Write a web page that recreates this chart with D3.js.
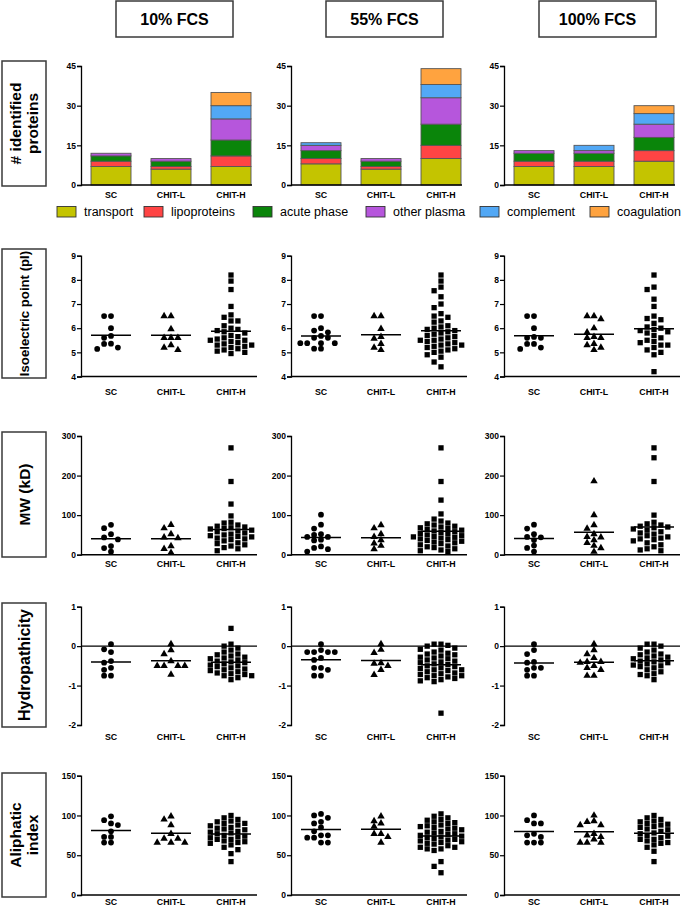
<!DOCTYPE html>
<html><head><meta charset="utf-8">
<script src="https://cdn.jsdelivr.net/npm/d3@7"></script>
<style>
body{margin:0;background:#fff}
svg{display:block}
text{font-family:'Liberation Sans',Arial,Helvetica,sans-serif}
</style>
</head><body>
<svg id="chart" width="685" height="911"></svg>
<script>
// ---------------- DATA ----------------
const conditions = ["10% FCS", "55% FCS", "100% FCS"];
const groups = ["SC", "CHIT-L", "CHIT-H"];
const proteinClasses = ["transport", "lipoproteins", "acute phase", "other plasma", "complement", "coagulation"];
const classColors = ["#c4c400", "#ff4444", "#0a850a", "#b656dc", "#52a8f5", "#ffa33f"];

// number of identified proteins per class: [group][class]
const counts10 = [[7, 2, 2, 1, 0, 0], [6, 1, 2, 1, 0, 0], [7, 4, 6, 8, 5, 5]];
const counts55 = [[8, 2, 3, 2, 1, 0], [6, 1, 2, 1, 0, 0], [10, 5, 8, 10, 5, 6]];
const counts100 = [[7, 2, 3, 1, 0, 0], [7, 2, 3, 1, 2, 0], [9, 4, 5, 5, 4, 3]];
const countTicks = [0, 15, 30, 45];

// isoelectric point: [SC, CHIT-L, CHIT-H]
const pI10 = [
  [6.5, 6.5, 6.0, 5.68, 5.6, 5.35, 5.14, 5.2, 5.36],
  [6.5, 6.5, 5.96, 5.6, 5.6, 5.6, 5.3, 5.1, 5.2],
  [8.2, 7.95, 7.6, 6.9, 6.55, 6.45, 6.3, 6.3, 6.1, 6.0, 5.95, 5.9, 5.85, 5.8, 5.7, 5.65, 5.6, 5.55, 5.5, 5.5, 5.45, 5.4, 5.35, 5.3, 5.3, 5.25, 5.2, 5.15, 5.1, 5.05, 5.0, 4.95]
];
const pI55 = [
  [6.5, 6.5, 6.0, 5.9, 5.83, 5.68, 5.6, 5.6, 5.38, 5.38, 5.38, 5.38, 5.15, 5.15],
  [6.5, 6.5, 5.97, 5.64, 5.57, 5.35, 5.1, 5.2],
  [8.2, 7.95, 7.7, 7.55, 7.3, 7.0, 6.85, 6.6, 6.5, 6.45, 6.3, 6.25, 6.1, 6.05, 6.0, 5.95, 5.9, 5.85, 5.8, 5.75, 5.7, 5.65, 5.6, 5.55, 5.5, 5.5, 5.45, 5.4, 5.35, 5.3, 5.3, 5.25, 5.2, 5.15, 5.1, 5.05, 5.0, 4.9, 4.8, 4.6, 4.4]
];
const pI100 = [
  [6.5, 6.5, 6.0, 5.6, 5.6, 5.64, 5.35, 5.14, 5.2, 5.35],
  [5.83, 6.5, 6.38, 6.5, 6.0, 5.6, 5.6, 5.64, 5.3, 5.35, 5.1, 5.2],
  [8.2, 7.7, 7.6, 7.2, 6.9, 6.5, 6.4, 6.35, 6.2, 6.05, 6.0, 5.95, 5.9, 5.85, 5.8, 5.7, 5.6, 5.5, 5.45, 5.4, 5.3, 5.3, 5.2, 5.1, 5.0, 4.9, 4.2]
];
const pITicks = [4, 5, 6, 7, 8, 9];

// molecular weight (kD)
const mw10 = [
  [75.6, 67, 52, 38.7, 43.7, 21.8, 16.8, 7.6],
  [52, 67, 75.6, 42, 43.7, 21.8, 15, 5],
  [270, 185, 128, 98, 82, 80, 75, 72, 70, 68, 66, 65, 62, 60, 58, 55, 52, 50, 48, 46, 45, 42, 40, 38, 35, 30, 28, 25, 22, 18, 15, 10]
];
const mw55 = [
  [101, 76, 66, 52, 50, 45, 45, 38, 36, 17, 14, 21, 8],
  [75, 67, 45, 52, 37, 28.6, 14.3, 22.7],
  [270, 185, 138, 103, 90, 85, 80, 78, 75, 72, 70, 68, 66, 64, 62, 60, 58, 56, 54, 52, 50, 48, 46, 45, 44, 42, 40, 38, 36, 34, 32, 30, 28, 25, 22, 20, 18, 15, 12, 10, 8]
];
const mw100 = [
  [45, 76, 66, 52, 37, 44, 23, 17, 8],
  [185.7, 100, 75, 66, 45, 37, 43.7, 22.7, 52, 7.6, 16.8, 30],
  [270, 245, 185, 100, 82, 78, 75, 72, 70, 68, 65, 62, 58, 55, 52, 48, 45, 42, 40, 38, 35, 30, 25, 20, 15, 12, 10]
];
const mwTicks = [0, 100, 200, 300];

// hydropathicity (GRAVY)
const hyd10 = [
  [0.05, -0.08, -0.15, -0.38, -0.42, -0.55, -0.6, -0.75, -0.75],
  [0.05, -0.1, -0.2, -0.38, -0.5, -0.5, -0.5, -0.5, -0.72],
  [0.45, 0.05, 0.0, -0.05, -0.1, -0.15, -0.2, -0.22, -0.25, -0.28, -0.3, -0.32, -0.35, -0.38, -0.4, -0.42, -0.45, -0.48, -0.5, -0.52, -0.55, -0.58, -0.6, -0.62, -0.65, -0.68, -0.7, -0.72, -0.75, -0.75, -0.8, -0.85]
];
const hyd55 = [
  [0.05, -0.15, -0.15, -0.15, -0.15, -0.1, -0.3, -0.35, -0.55, -0.55, -0.6, -0.75, -0.75],
  [0.05, -0.09, -0.17, -0.44, -0.5, -0.43, -0.6, -0.73],
  [0.05, 0.05, 0.02, 0.0, -0.05, -0.08, -0.1, -0.15, -0.18, -0.2, -0.22, -0.25, -0.28, -0.3, -0.32, -0.35, -0.38, -0.4, -0.42, -0.45, -0.47, -0.5, -0.52, -0.55, -0.57, -0.6, -0.62, -0.65, -0.68, -0.7, -0.72, -0.75, -0.78, -0.8, -0.82, -0.85, -0.88, -0.9, -0.75, -0.6, -1.7]
];
const hyd100 = [
  [0.05, -0.1, -0.2, -0.4, -0.42, -0.55, -0.55, -0.6, -0.75, -0.75],
  [0.05, -0.1, -0.2, -0.3, -0.4, -0.4, -0.42, -0.5, -0.55, -0.6, -0.75, -0.75],
  [0.05, 0.05, 0.0, -0.05, -0.1, -0.15, -0.2, -0.22, -0.25, -0.28, -0.3, -0.32, -0.35, -0.38, -0.4, -0.42, -0.45, -0.48, -0.5, -0.52, -0.55, -0.6, -0.65, -0.7, -0.72, -0.75, -0.85]
];
const hydTicks = [-2, -1, 0, 1];

// aliphatic index
const ali10 = [
  [99, 94, 90, 88, 80, 73, 73, 66, 66],
  [99, 95, 88, 77, 71, 71, 66, 66, 66],
  [100, 97, 95, 93, 92, 90, 90, 88, 87, 85, 84, 83, 82, 80, 79, 78, 77, 75, 74, 73, 72, 70, 70, 68, 67, 66, 65, 63, 60, 57, 52, 42]
];
const ali55 = [
  [102, 100, 97, 92, 90, 85, 80, 75, 75, 72, 66, 66, 72],
  [99, 93, 90, 86, 77, 73, 66, 77],
  [102, 99, 97, 95, 94, 92, 91, 90, 88, 87, 86, 85, 84, 83, 82, 80, 79, 78, 77, 76, 75, 74, 73, 72, 71, 70, 69, 68, 67, 66, 65, 64, 62, 60, 58, 60, 58, 56, 42, 36, 28]
];
const ali100 = [
  [100, 94, 90, 90, 77, 75, 73, 66, 66, 66],
  [100, 93, 92, 88, 88, 77, 75, 73, 70, 66, 66, 66],
  [100, 97, 95, 93, 92, 90, 89, 88, 86, 85, 83, 82, 80, 78, 77, 75, 74, 72, 70, 70, 68, 66, 65, 63, 60, 55, 42]
];
const aliTicks = [0, 50, 100, 150];

// ---------------- LAYOUT ----------------
const svg = d3.select("#chart");
const panelX = [81, 291, 504];
const FONT = "'Liberation Sans',Arial,Helvetica,sans-serif";

// header boxes
conditions.forEach((c, i) => {
  const g = svg.append("g");
  g.append("rect").attr("x", panelX[i] + 35).attr("y", 1).attr("width", 117).attr("height", 36)
    .attr("fill", "#fff").attr("stroke", "#3a3a3a").attr("stroke-width", 1.5);
  g.append("text").attr("x", panelX[i] + 93.5).attr("y", 19).attr("dy", "0.36em")
    .attr("text-anchor", "middle").attr("font-weight", "bold").attr("font-size", 16).text(c);
});

// row label boxes
function rowLabel(lines, top, bottom, fs) {
  const g = svg.append("g");
  g.append("rect").attr("x", 2).attr("y", top).attr("width", 44).attr("height", bottom - top)
    .attr("fill", "#fff").attr("stroke", "#3a3a3a").attr("stroke-width", 1.5);
  const cy = (top + bottom) / 2, cx = 24;
  const t = g.append("text").attr("transform", `translate(${cx},${cy}) rotate(-90)`)
    .attr("text-anchor", "middle").attr("font-weight", "bold").attr("font-size", fs);
  const lh = fs * 1.05;
  lines.forEach((l, k) => {
    t.append("tspan").attr("x", 0).attr("y", (k - (lines.length - 1) / 2) * lh).attr("dy", "0.36em").text(l);
  });
}
rowLabel(["# identified", "proteins"], 61, 186, 15.5);
rowLabel(["Isoelectric point (pI)"], 249, 378, 13.2);
rowLabel(["MW (kD)"], 432, 557, 15.5);
rowLabel(["Hydropathicity"], 603, 727, 16);
rowLabel(["Aliphatic", "index"], 773, 897, 15.5);

function xBand(i) {
  return d3.scaleBand().domain(groups).range([panelX[i], panelX[i] + 180]).paddingInner(1 / 3).paddingOuter(1 / 6);
}

function yAxis(g, y, ticks, x0) {
  const ax = g.append("g").attr("transform", `translate(${x0},0)`)
    .call(d3.axisLeft(y).tickValues(ticks).tickSize(4).tickPadding(1).tickFormat(d => String(d)));
  ax.select(".domain").attr("stroke", "#000").attr("stroke-width", 1.3);
  ax.selectAll(".tick line").attr("stroke", "#000").attr("stroke-width", 1.2);
  ax.selectAll(".tick text").attr("font-family", FONT).attr("font-weight", "bold").attr("font-size", 8.5).attr("fill", "#000");
}
function catLabels(g, x, yPos) {
  g.selectAll("text.cat").data(groups).join("text").attr("class", "cat")
    .attr("x", d => x(d) + x.bandwidth() / 2).attr("y", yPos).attr("dy", "0.36em")
    .attr("text-anchor", "middle").attr("font-weight", "bold").attr("font-size", 8.8).text(d => d);
}

// ---------------- ROW 1: stacked bars ----------------
const countsAll = [counts10, counts55, counts100];
const yCount = d3.scaleLinear().domain([0, 45]).range([185, 66]);
countsAll.forEach((counts, i) => {
  const g = svg.append("g");
  const x = xBand(i);
  const table = groups.map((grp, gi) => {
    const o = { group: grp };
    proteinClasses.forEach((c, ci) => o[c] = counts[gi][ci]);
    return o;
  });
  const series = d3.stack().keys(proteinClasses)(table);
  series.forEach((s, si) => {
    g.selectAll(null).data(s.filter(d => d[1] > d[0])).join("rect")
      .attr("x", d => x(d.data.group)).attr("width", x.bandwidth())
      .attr("y", d => yCount(d[1])).attr("height", d => yCount(d[0]) - yCount(d[1]))
      .attr("fill", classColors[si]).attr("stroke", "#555").attr("stroke-width", 0.9);
  });
  yAxis(g, yCount, countTicks, panelX[i]);
  g.append("line").attr("x1", panelX[i]).attr("x2", panelX[i] + 171).attr("y1", yCount(0)).attr("y2", yCount(0))
    .attr("stroke", "#000").attr("stroke-width", 1.4);
  catLabels(g, x, 194.5);
});

// legend
const legendX = [57, 144, 253, 366, 480, 590];
proteinClasses.forEach((c, i) => {
  svg.append("rect").attr("x", legendX[i]).attr("y", 206.5).attr("width", 19).attr("height", 10.5)
    .attr("fill", classColors[i]).attr("stroke", "#333").attr("stroke-width", 0.9);
  svg.append("text").attr("x", legendX[i] + 27).attr("y", 211.8).attr("dy", "0.36em")
    .attr("font-size", 12.5).text(c);
});

// ---------------- scatter rows ----------------
const markers = [d3.symbolCircle, d3.symbolTriangle, d3.symbolSquare];
const markerSizes = [26, 24, 28];

function swarm(vals, y, cx) {
  const s = 6.9, ry = 5.4;
  const pts = vals.map(v => ({ v, y: y(v) })).sort((a, b) => a.y - b.y);
  const placed = [];
  pts.forEach(p => {
    for (let k = 0; k < 60; k++) {
      const m = Math.ceil(k / 2) * (k % 2 ? -1 : 1);
      const xx = cx + m * s;
      if (!placed.some(q => Math.abs(q.x - xx) < s - 0.2 && Math.abs(q.y - p.y) < ry)) {
        p.x = xx; placed.push(p); break;
      }
    }
  });
  return placed;
}

function scatterRow(dataSets, domain, range, ticks, labelY, axisAt) {
  const y = d3.scaleLinear().domain(domain).range(range);
  dataSets.forEach((ds, i) => {
    const g = svg.append("g");
    const x = xBand(i);
    yAxis(g, y, ticks, panelX[i]);
    g.append("line").attr("x1", panelX[i]).attr("x2", panelX[i] + 176)
      .attr("y1", y(axisAt)).attr("y2", y(axisAt)).attr("stroke", "#000").attr("stroke-width", 1.4);
    ds.forEach((vals, gi) => {
      const cx = x(groups[gi]) + x.bandwidth() / 2;
      const pts = swarm(vals, y, cx);
      g.selectAll(null).data(pts).join("path")
        .attr("transform", d => `translate(${d.x},${d.y})`)
        .attr("d", d3.symbol(markers[gi], markerSizes[gi])).attr("fill", "#000");
      const mean = d3.mean(vals);
      g.append("line").attr("x1", x(groups[gi])).attr("x2", x(groups[gi]) + x.bandwidth())
        .attr("y1", y(mean)).attr("y2", y(mean)).attr("stroke", "#000").attr("stroke-width", 1.5);
    });
    catLabels(g, x, labelY);
  });
}

scatterRow([pI10, pI55, pI100], [4, 9], [376.5, 255.7], pITicks, 392, 4);
scatterRow([mw10, mw55, mw100], [0, 300], [554.7, 436], mwTicks, 564, 0);
scatterRow([hyd10, hyd55, hyd100], [-2, 1], [725, 606.7], hydTicks, 737, 0);
scatterRow([ali10, ali55, ali100], [0, 150], [895, 775.7], aliTicks, 902, 0);
</script>
</body></html>
